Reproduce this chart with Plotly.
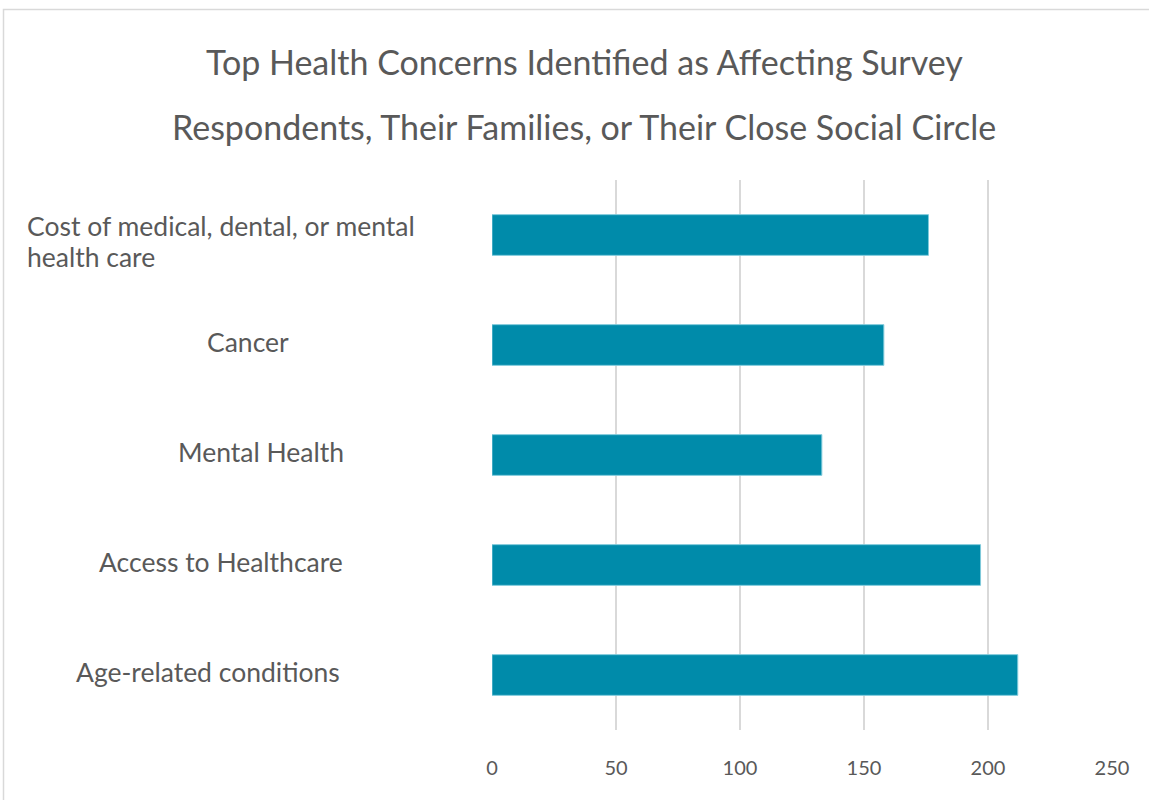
import plotly.graph_objects as go

categories = [
    "Cost of medical, dental, or mental health care",
    "Cancer",
    "Mental Health",
    "Access to Healthcare",
    "Age-related conditions",
]
label_lines = [
    ["Cost of medical, dental, or mental", "health care"],
    ["Cancer"],
    ["Mental Health"],
    ["Access to Healthcare"],
    ["Age-related conditions"],
]
values = [176, 158, 133, 197, 212]
x_ticks = [0, 50, 100, 150, 200, 250]
title_lines = [
    "Top Health Concerns Identified as Affecting Survey",
    "Respondents, Their Families, or Their Close Social Circle",
]

W, H = 1149, 800
L, R, T, B = 492, 37, 180, 70
pw, ph = W - L - R, H - T - B

def px_x(p):
    return (p - L) / pw

def px_y(p):
    return (H - B - p) / ph

FONT = "Lato"
GREY = "#595959"

fig = go.Figure(go.Bar(
    x=values, y=categories, orientation="h",
    marker=dict(color="#008BAA", line=dict(color="#7FCADB", width=1)),
    width=0.37, hoverinfo="skip",
))

annotations = []
label_left = [25, None, None, None, None]
label_centers = [None, 248, 261, 221, 208]
for cat, lines, lx, cx in zip(categories, label_lines, label_left, label_centers):
    if len(lines) == 2:
        for txt, ys in zip(lines, [9, -22]):
            annotations.append(dict(x=px_x(lx), xref="paper", y=cat, yref="y", text=txt,
                                    showarrow=False, xanchor="left", yanchor="middle",
                                    yshift=ys,
                                    font=dict(family=FONT, size=26.5, color=GREY)))
    else:
        annotations.append(dict(x=px_x(cx), xref="paper", y=cat, yref="y", text=lines[0],
                                showarrow=False, xanchor="center", yanchor="middle",
                                yshift=3,
                                font=dict(family=FONT, size=26.5, color=GREY)))

for line, py in zip(title_lines, [62, 127]):
    annotations.append(dict(x=px_x(584), xref="paper", y=px_y(py - 1), yref="paper",
                            text=line, showarrow=False, xanchor="center", yanchor="middle",
                            font=dict(family=FONT, size=34, color=GREY)))

fig.update_layout(
    width=W, height=H,
    margin=dict(l=L, r=R, t=T, b=B, autoexpand=False),
    paper_bgcolor="white", plot_bgcolor="white",
    showlegend=False,
    xaxis=dict(range=[0, 250], tickvals=x_ticks, showgrid=True, gridcolor="#D9D9D9",
               gridwidth=2, zeroline=False, showline=False, ticks="",
               tickfont=dict(family=FONT, size=20, color=GREY), ticklabelstandoff=24),
    yaxis=dict(categoryorder="array", categoryarray=categories, autorange="reversed",
               showticklabels=False, showgrid=False, zeroline=False, showline=False),
    annotations=annotations,
    shapes=[dict(type="rect", xref="paper", yref="paper",
                 x0=px_x(3.5), x1=px_x(1160), y0=px_y(9.5), y1=px_y(820),
                 line=dict(color="#D9D9D9", width=1.5))],
)

fig.write_html("out.html")
